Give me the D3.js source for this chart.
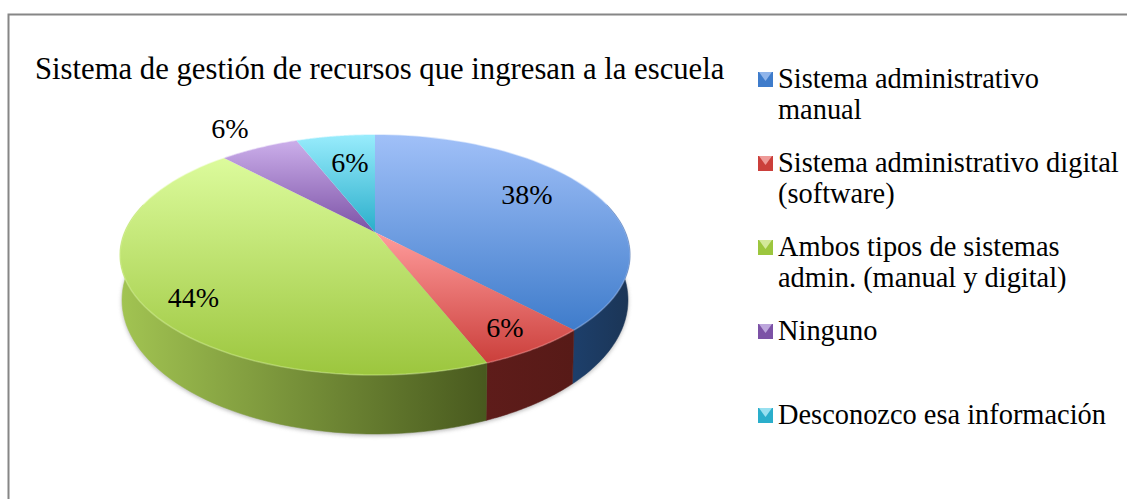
<!DOCTYPE html>
<html><head><meta charset="utf-8">
<script src="https://cdn.jsdelivr.net/npm/d3@7"></script>
<style>html,body{margin:0;padding:0;background:#fff}svg{display:block}</style>
</head><body><svg id="c" width="1127" height="499"></svg>
<script>
const titleText = "Sistema de gestión de recursos que ingresan a la escuela";
const categories = ["Sistema administrativo manual","Sistema administrativo digital (software)","Ambos tipos de sistemas admin. (manual y digital)","Ninguno","Desconozco esa información"];
const legendLines = [["Sistema administrativo","manual"],["Sistema administrativo digital","(software)"],["Ambos tipos de sistemas","admin. (manual y digital)"],["Ninguno"],["Desconozco esa información"]];
const values = [38,6,44,6,6];
const valueLabels = ["38%","6%","44%","6%","6%"];
const topLight = ["#a0c0f8","#ff9c9c","#dcfb9c","#cbaeea","#98ecfc"];
const topDark  = ["#3f7ccb","#cb3f3b","#9cc63e","#7c52a6","#2aaecb"];
const markerLight = ["#8fb4ea","#ee9a98","#d3e89a","#bda6dc","#98e0f0"];
const wallA = ["#1d3f6b","#5e1c1a","#a2c452","#4f3a6b","#1f6f85"];
const wallB = ["#1b3556","#571a17","#48591e","#3d2c55","#1a5a6c"];
const labelPos = [[527,204],[505,337],[193.5,307],[230,138],[350,172]];
const legendMarkerY = [72,156,240,324,408];
const legendBaselines = [[87.5,119],[171.5,203],[255.5,287],[339.5],[423.5]];

const svg = d3.select("#c");
const defs = svg.append("defs");
svg.append("rect").attr("x",8.5).attr("y",14.5).attr("width",1200).attr("height",600).attr("fill","#fff").attr("stroke","#868686").attr("stroke-width",2);

const sx = d3.scaleLinear().domain([-1,1]).range([120,630]);
const sy = d3.scaleLinear().domain([-1,1]).range([135,375]);
const sxB = d3.scaleLinear().domain([-1,1]).range([122,628]);
const syB = d3.scaleLinear().domain([-1,1]).range([166,434]);
const a = -0.19;
function proj(t){
  const u=Math.sin(t), v=-Math.cos(t), d=1+a*v;
  return [u*Math.sqrt(1-a*a)/d,(v+a)/d];
}
const top_ = t=>{const p=proj(t);return [sx(p[0]),sy(p[1])]};
const bot_ = t=>{const p=proj(t);return [sxB(p[0]),syB(p[1])]};
const arcs = d3.pie().sort(null).value(d=>d)(values);
const line = d3.line();
const samples=(s,e)=>d3.range(0,61).map(i=>s+(e-s)*i/60);

const blur = defs.append("filter").attr("id","sh").attr("x","-10%").attr("y","-10%").attr("width","120%").attr("height","120%");
blur.append("feGaussianBlur").attr("stdDeviation",2.2);

values.forEach((v,i)=>{
  const g=defs.append("linearGradient").attr("id","t"+i).attr("x1",0).attr("y1",0).attr("x2",0).attr("y2",1);
  g.append("stop").attr("offset",0).attr("stop-color",topLight[i]);
  g.append("stop").attr("offset",1).attr("stop-color",topDark[i]);
  const w=defs.append("linearGradient").attr("id","w"+i).attr("x1",0).attr("y1",0).attr("x2",1).attr("y2",0);
  w.append("stop").attr("offset",0).attr("stop-color",wallA[i]);
  w.append("stop").attr("offset",1).attr("stop-color",wallB[i]);
});

// soft shadow under the pie
const vis0=Math.PI*0.42, vis1=Math.PI*1.58;
svg.append("path").attr("filter","url(#sh)").attr("fill","#9a9a9a").attr("opacity",.75)
  .attr("d",line(samples(vis0,vis1).map(bot_).map(p=>[p[0],p[1]+1.5]))+"Z");

// walls
arcs.forEach((d,i)=>{
  const s=Math.max(d.startAngle,vis0), e=Math.min(d.endAngle,vis1);
  if(e<=s) return;
  const pts=samples(s,e).map(top_).concat(samples(s,e).reverse().map(bot_));
  svg.append("path").attr("d",line(pts)+"Z").attr("fill",`url(#w${i})`).attr("stroke",`url(#w${i})`).attr("stroke-width",.5);
});
// top faces
arcs.forEach((d,i)=>{
  const all=[[sx(0),sy(a)]].concat(samples(d.startAngle,d.endAngle).map(top_));
  svg.append("path").attr("d",line(all)+"Z").attr("fill",`url(#t${i})`);
});
// rim highlight per slice
arcs.forEach((d,i)=>{
  svg.append("path").attr("fill","none").attr("stroke",topLight[i]).attr("stroke-opacity",.4).attr("stroke-width",1.6)
    .attr("d",line(samples(d.startAngle,d.endAngle).map(top_)));
});

const serif="'Liberation Serif',serif";
svg.append("text").attr("x",35).attr("y",78.5).attr("font-family",serif).attr("font-size",30.7).attr("fill","#000").text(titleText);
valueLabels.forEach((t,i)=>{
  svg.append("text").attr("x",labelPos[i][0]).attr("y",labelPos[i][1]).attr("text-anchor","middle")
    .attr("font-family",serif).attr("font-size",28).attr("fill","#000").text(t);
});
// legend
categories.forEach((c,i)=>{
  const y=legendMarkerY[i], x=758;
  svg.append("rect").attr("x",x).attr("y",y).attr("width",15).attr("height",15).attr("fill",topDark[i]);
  svg.append("path").attr("d",line([[x+1,y],[x+14,y],[x+7.5,y+9]])+"Z").attr("fill",markerLight[i]);
  legendLines[i].forEach((ln,k)=>{
    svg.append("text").attr("x",778).attr("y",legendBaselines[i][k]).attr("font-family",serif)
      .attr("font-size",28.4).attr("fill","#000").text(ln);
  });
});
</script></body></html>
